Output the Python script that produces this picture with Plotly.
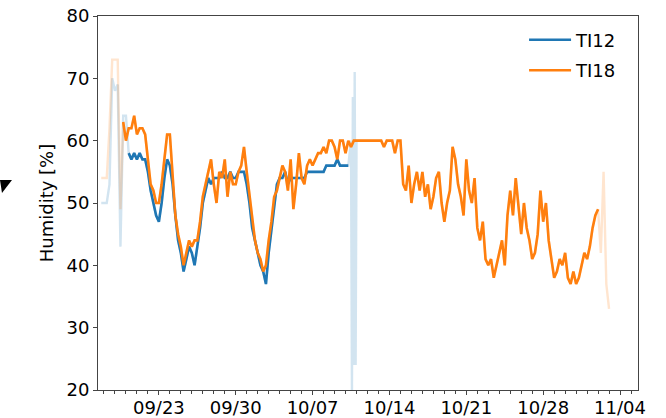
import pandas as pd
import plotly.graph_objects as go

# Relative humidity readings, one every 6 h starting at FIRST_READING
FIRST_READING = "2019-09-17 18:00"
STEP = "6h"

ti18_rh = [
    54,
    54, 54, 62, 73, 73, 73, 49, 63,
    60, 62, 62, 64, 61, 62, 62, 61,
    57, 53, 52, 50, 50, 53, 57, 61,
    61, 54, 48, 45, 43, 40, 42, 44,
    43, 44, 44, 47, 51, 53, 55, 57,
    53, 50, 55, 54, 57, 51, 55, 53,
    53, 55, 56, 59, 55, 51, 47, 44,
    42, 41, 39, 40, 44, 47, 51, 52,
    54, 56, 55, 52, 57, 49, 53, 58,
    54, 53, 56, 57, 56, 57, 58, 58,
    59, 58, 60, 60, 59, 57, 60, 60,
    58, 60, 59, 60, 60, 60, 60, 60,
    60, 60, 60, 60, 60, 60, 59, 60,
    60, 60, 58, 60, 60, 53, 52, 56,
    50, 53, 55, 52, 55, 51, 53, 49,
    51, 54, 55, 50, 47, 50, 52, 59,
    57, 53, 51, 48, 57, 52, 50, 54,
    46, 44, 47, 41, 40, 41, 38, 40,
    42, 44, 40, 48, 52, 48, 54, 49,
    45, 50, 46, 44, 41, 42, 45, 52,
    47, 50, 44, 41, 38, 39, 41, 40,
    42, 38, 37, 39, 37, 38, 40, 42,
    41, 43, 46, 48, 49, 42, 55, 37,
    33,
]

ti12_rh = [
    50,
    50, 50, 53, 70, 68, 69, 43, 64,
    64, 58, 57, 58, 57, 58, 57, 57,
    55, 52, 50, 48, 47, 50, 54, 57,
    56, 53, 48, 44, 42, 39, 41, 43,
    42, 40, 43, 46, 50, 52, 54, 53,
    54, 54, 54, 55, 54, 54, 55, 54,
    54, 55, 55, 55, 53, 50, 46, 44,
    42, 40, 39, 37, 42, 46, 50, 53,
    54, 54, 55, 53, 54, 54, 54, 54,
    54, 54, 55, 55, 55, 55, 55, 55,
    55, 56, 56, 56, 56, 57, 56, 56,
    56, 56,
]

# TI12 sensor fault on 10/10, logged every 2 h
ti12_fault_time = ["2019-10-10 12:00", "2019-10-10 14:00", "2019-10-10 16:00",
                   "2019-10-10 18:00", "2019-10-10 20:00", "2019-10-10 22:00",
                   "2019-10-11 00:00"]
ti12_fault_rh = [60, 20, 67, 24, 71, 24, 60]

# Periods in which each sensor's readings are considered valid
ti12_valid = ("2019-09-20 06:00", "2019-10-10 06:00")
ti18_valid = ("2019-09-19 18:00", "2019-11-02 00:00")

week_ticks = ["2019-09-23", "2019-09-30", "2019-10-07", "2019-10-14",
              "2019-10-21", "2019-10-28", "2019-11-04"]
x_limits = ["2019-09-17 10:55", "2019-11-05 15:16"]
y_limits = [20, 80]

BLUE = "#1f77b4"
ORANGE = "#ff7f0e"
BLUE_FADED = "rgba(31,119,180,0.2)"
ORANGE_FADED = "rgba(255,127,14,0.2)"

t18 = pd.Series(ti18_rh, index=pd.date_range(FIRST_READING, periods=len(ti18_rh), freq=STEP))
t12 = pd.Series(ti12_rh, index=pd.date_range(FIRST_READING, periods=len(ti12_rh), freq=STEP))
t12_all = pd.concat([t12, pd.Series(ti12_fault_rh, index=pd.to_datetime(ti12_fault_time))])

t12_ok = t12[(t12.index >= ti12_valid[0]) & (t12.index <= ti12_valid[1])]
t18_ok = t18[(t18.index >= ti18_valid[0]) & (t18.index <= ti18_valid[1])]

fig = go.Figure()
fig.add_trace(go.Scatter(x=t12_all.index, y=t12_all.values, mode="lines",
                         line=dict(color=BLUE_FADED, width=2.4), showlegend=False, hoverinfo="skip"))
fig.add_trace(go.Scatter(x=t18.index, y=t18.values, mode="lines",
                         line=dict(color=ORANGE_FADED, width=2.4), showlegend=False, hoverinfo="skip"))
fig.add_trace(go.Scatter(x=t12_ok.index, y=t12_ok.values, mode="lines", name="TI12",
                         legendgroup="ti12", line=dict(color=BLUE, width=2.6)))
fig.add_trace(go.Scatter(x=t18_ok.index, y=t18_ok.values, mode="lines", name="TI18",
                         legendgroup="ti18", line=dict(color=ORANGE, width=2.6)))

font = dict(family="DejaVu Sans", size=18, color="black")
fig.update_layout(
    width=666, height=418,
    margin=dict(l=98, r=28, t=16, b=28),
    paper_bgcolor="white", plot_bgcolor="white",
    font=font,
    showlegend=True,
    legend=dict(x=0.789, y=0.985, xanchor="left", yanchor="top",
                bgcolor="rgba(0,0,0,0)", font=font, itemwidth=42,
                tracegroupgap=4),
    xaxis=dict(type="date", range=x_limits, tickvals=week_ticks, tickformat="%m/%d",
               automargin=False, ticklabelstandoff=-3,
               showgrid=False, zeroline=False, showline=True, mirror=True,
               linecolor="#444", linewidth=1, ticks="outside", ticklen=4,
               tickcolor="#444", tickfont=font,
               minor=dict(dtick=86400000, tick0="2019-09-17", ticks="outside",
                          ticklen=3, tickcolor="#444", showgrid=False)),
    yaxis=dict(range=y_limits, dtick=10, showgrid=False, zeroline=False,
               automargin=False,
               showline=True, mirror=True, linecolor="#444", linewidth=1,
               ticks="outside", ticklen=4, tickcolor="#444", tickfont=font,
               title=dict(text="Humidity [%]", font=font, standoff=8)),
)

# small marker at the left edge of the figure
fig.add_shape(type="path", xref="paper", yref="paper",
              path="M -0.1815 0.5615 L -0.1593 0.5615 L -0.1778 0.5267 Z",
              fillcolor="black", line=dict(width=0))

fig.write_html("out.html")
